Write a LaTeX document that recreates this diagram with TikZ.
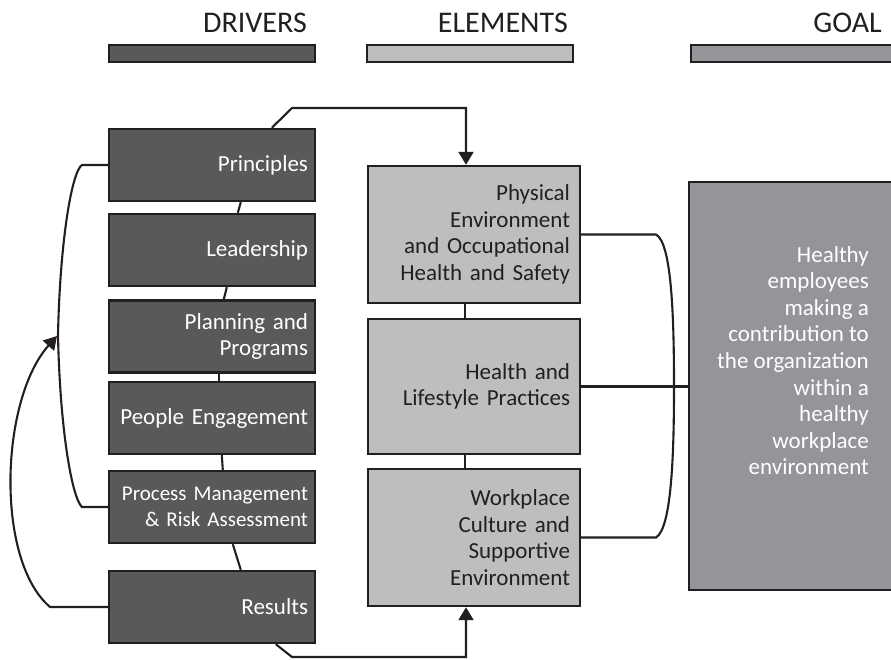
\documentclass[tikz,border=0pt]{standalone}
\usepackage{fontspec}
\setmainfont{Carlito}
\usepackage{tikz}
\usetikzlibrary{arrows.meta}
\usetikzlibrary{positioning}
\usepackage{xcolor}

\definecolor{drvgray}{RGB}{88,89,91}
\definecolor{elmgray}{RGB}{188,190,192}
\definecolor{goalgray}{RGB}{147,149,152}
\definecolor{inkblack}{RGB}{35,31,32}

\tikzset{
  boxtext/.style={font=\fontsize{23}{26.6}\selectfont},
  driver/.style={boxtext, draw=inkblack, line width=2.4pt, fill=drvgray, text=white,
    text width=192pt, inner xsep=7pt, inner ysep=0pt, minimum height=72pt, align=right},
  element/.style={boxtext, draw=inkblack, line width=2.4pt, fill=elmgray, text=inkblack,
    text width=192pt, inner xsep=10pt, inner ysep=0pt, align=right},
  heading/.style={anchor=base east, inner sep=0pt, text=inkblack,
    font=\fontsize{30}{36}\selectfont},
  bar/.style={draw=inkblack, line width=2.2pt},
  link/.style={draw=inkblack, line width=2.1pt},
}

\begin{document}
\begin{tikzpicture}[x=1pt, y=-1pt, >={Triangle[width=15pt,length=13pt]}]
\useasboundingbox (0,0) rectangle (891,659);
\clip (0,0) rectangle (891,659);

% column headings and bars
\node[heading] (hdrv) at (307,32) {DRIVERS};
\node[heading] (helm) at (568,32) {ELEMENTS};
\node[heading] (hgoal) at (882,32) {GOAL};
\draw[bar, fill=drvgray] (109,45) rectangle (315,62);
\draw[bar, fill=elmgray] (367,45) rectangle (573,62);
\draw[bar, fill=goalgray] (691,45) rectangle (900,62);

% drivers
\node[driver] (prin) at (212,165) {Principles};
\node[driver] (lead) at (212,250) {Leadership};
\node[driver] (plan) at (212,336.5) {Planning and\\Programs};
\node[driver] (peop) at (212,418) {People Engagement};
\node[driver, font=\fontsize{21}{26.5}\selectfont] (proc) at (212,507)
  {Process Management\\\& Risk Assessment};
\node[driver] (res) at (212,607) {Results};

% elements
\node[element, minimum height=137pt] (phys) at (474,234.5)
  {Physical\\Environment\\and Occupational\\Health and Safety};
\node[element, minimum height=135pt] (hlth) at (474,386.5)
  {Health and\\Lifestyle Practices};
\node[element, minimum height=137pt] (work) at (474,537.5)
  {Workplace\\Culture and\\Supportive\\Environment};

% goal
\node[draw=inkblack, line width=2.4pt, fill=goalgray, inner sep=0pt,
  minimum width=206pt, minimum height=408pt] (goal) at (792,386) {};
\node[boxtext, anchor=north east, inner sep=0pt, text=white, align=right] (goaltxt) at (869,246)
  {Healthy\\employees\\making a\\contribution to\\the organization\\within a\\healthy\\workplace\\environment};

% chain through the drivers
\foreach \a/\b/\p/\q in {prin/lead/133/130, lead/plan/119/116, plan/peop/111/111,
                         peop/proc/114/115, proc/res/125/133}
  \draw[link] ([xshift=\p pt]\a.south west) -- ([xshift=\q pt]\b.north west);

\draw[link,->] ([xshift=164pt]prin.north west) -- (292,108) -| ([xshift=-8pt]phys.north);
\draw[link,->] ([xshift=168pt]res.south west) -- (292,657) -| ([xshift=-8pt]work.south);

% chain through the elements
\draw[link] ([xshift=-9pt]phys.south) -- ([xshift=-9pt]hlth.north);
\draw[link] ([xshift=-9pt]hlth.south) -- ([xshift=-9pt]work.north);

% left brackets
\draw[link] (prin.west) -- (82,165) .. controls (72,171) and (60,240) .. (58,335)
  .. controls (60,430) and (72,498) .. (82,507) -- (proc.west);
\draw[link,->] (res.west) -- (50,607) .. controls (-5,560) and (0,400) .. (57,336);

% right bracket into the goal
\draw[link] (phys.east) -- (656,234.5) .. controls (672,243) and (674,320) .. (674,386.5)
  .. controls (674,450) and (672,528) .. (656,537.5) -- (work.east);
\draw[link] (hlth.east) -- (hlth.east -| goal.west);
\end{tikzpicture}
\end{document}
